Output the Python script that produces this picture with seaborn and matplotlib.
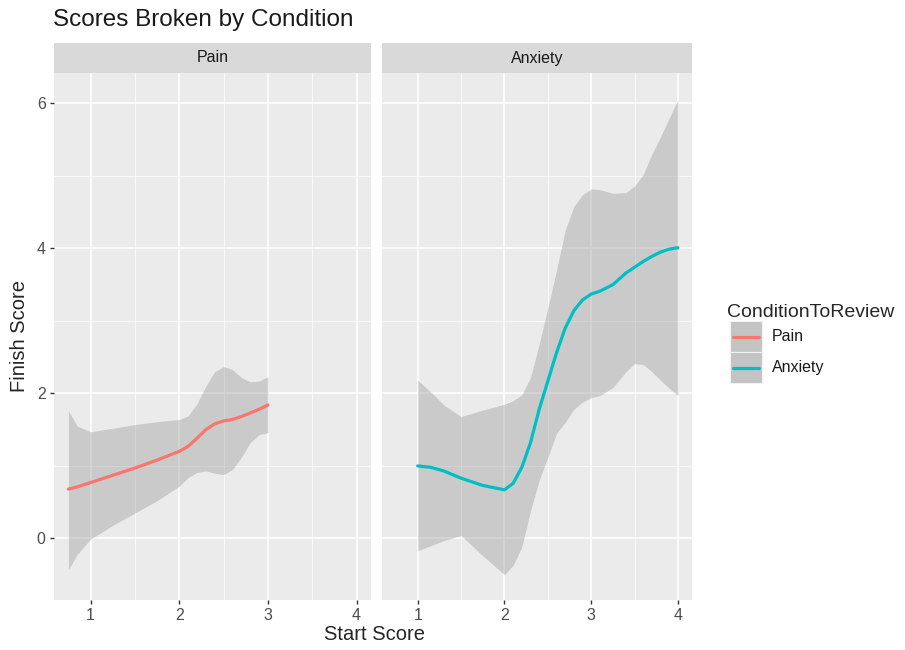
import numpy as np
import pandas as pd
import matplotlib
matplotlib.use("Agg")
import matplotlib.pyplot as plt
import seaborn as sns
from matplotlib.patches import Rectangle
from matplotlib.lines import Line2D
from matplotlib.ticker import MultipleLocator

# values
pain_x = [0.75, 0.85, 1.0, 1.25, 1.5, 1.75, 2.0, 2.1, 2.2, 2.3, 2.4, 2.5, 2.6, 2.7, 2.8, 2.9, 3.0]
pain_fit = [0.68, 0.71, 0.77, 0.87, 0.97, 1.08, 1.20, 1.27, 1.38, 1.50, 1.58, 1.62, 1.64, 1.68, 1.73, 1.78, 1.84]
pain_hi = [1.76, 1.55, 1.47, 1.52, 1.57, 1.61, 1.64, 1.69, 1.86, 2.10, 2.30, 2.37, 2.33, 2.22, 2.16, 2.17, 2.23]
pain_lo = [-0.43, -0.22, -0.01, 0.18, 0.35, 0.52, 0.72, 0.84, 0.91, 0.93, 0.90, 0.88, 0.95, 1.12, 1.32, 1.43, 1.46]

anx_x = [1.0, 1.15, 1.3, 1.5, 1.75, 2.0, 2.1, 2.2, 2.3, 2.4, 2.5, 2.6, 2.7, 2.8, 2.9, 3.0,
         3.1, 3.25, 3.4, 3.5, 3.6, 3.7, 3.8, 3.9, 4.0]
anx_fit = [1.00, 0.98, 0.93, 0.83, 0.73, 0.67, 0.76, 0.98, 1.32, 1.78, 2.17, 2.56, 2.90, 3.14, 3.29, 3.37,
           3.41, 3.50, 3.66, 3.74, 3.82, 3.89, 3.95, 3.99, 4.01]
anx_hi = [2.18, 2.02, 1.84, 1.68, 1.77, 1.85, 1.90, 1.98, 2.22, 2.68, 3.18, 3.70, 4.25, 4.58, 4.74, 4.82,
          4.81, 4.76, 4.77, 4.86, 5.02, 5.30, 5.54, 5.80, 6.05]
anx_lo = [-0.17, -0.10, -0.03, 0.04, -0.24, -0.50, -0.37, -0.12, 0.38, 0.80, 1.12, 1.45, 1.60, 1.78, 1.88, 1.94,
          1.97, 2.08, 2.30, 2.41, 2.40, 2.30, 2.18, 2.07, 1.97]

conditions = ["Pain", "Anxiety"]
colors = {"Pain": "#F8766D", "Anxiety": "#00BFC4"}

df = pd.concat([
    pd.DataFrame({"ConditionToReview": "Pain", "start": pain_x, "finish": pain_fit,
                  "lo": pain_lo, "hi": pain_hi}),
    pd.DataFrame({"ConditionToReview": "Anxiety", "start": anx_x, "finish": anx_fit,
                  "lo": anx_lo, "hi": anx_hi}),
])

sns.set_theme(style="darkgrid", rc={
    "axes.facecolor": "#EBEBEB",
    "grid.color": "white",
    "axes.edgecolor": "none",
    "xtick.bottom": True,
    "ytick.left": True,
    "xtick.color": "#333333",
    "ytick.color": "#333333",
})
plt.rcParams["font.family"] = ["Liberation Sans", "DejaVu Sans"]

fig = plt.figure(figsize=(9.05, 6.5), dpi=100)
W, H = 905, 650
bottom, top = 600, 73
panels = [(54, 371), (382, 692)]
axes = []
for (l, r) in panels:
    ax = fig.add_axes([l / W, 1 - bottom / H, (r - l) / W, (bottom - top) / H])
    axes.append(ax)

for ax, cond in zip(axes, conditions):
    sub = df[df["ConditionToReview"] == cond]
    ax.fill_between(sub["start"], sub["lo"], sub["hi"], color="#999999", alpha=0.4, lw=0, zorder=2)
    sns.lineplot(data=sub, x="start", y="finish", color=colors[cond], lw=2.3, ax=ax, zorder=3)
    ax.set_xlim(0.5875, 4.1625)
    ax.set_ylim(-0.85, 6.42)
    ax.set_xticks([1, 2, 3, 4])
    ax.set_yticks([0, 2, 4, 6])
    ax.xaxis.set_minor_locator(MultipleLocator(0.5))
    ax.yaxis.set_minor_locator(MultipleLocator(1))
    ax.grid(which="major", color="white", lw=1.1)
    ax.grid(which="minor", color="white", lw=0.5)
    ax.tick_params(which="major", length=3, width=1, pad=3, labelsize=11.5, labelcolor="#4D4D4D")
    ax.tick_params(which="minor", length=0)
    ax.set_xlabel("")
    ax.set_ylabel("")
    # facet strip
    strip_h = 30 / (bottom - top)
    ax.add_patch(Rectangle((0, 1), 1, strip_h, transform=ax.transAxes, facecolor="#D9D9D9",
                           edgecolor="none", clip_on=False))
    ax.text(0.5, 1 + strip_h / 2, cond, transform=ax.transAxes, ha="center", va="center",
            fontsize=11.5, color="#1A1A1A")

axes[1].tick_params(axis="y", which="both", left=False, labelleft=False)

fig.text(53 / W, 1 - 20 / H, "Scores Broken by Condition", ha="left", va="center",
         fontsize=17.5, color="#1A1A1A")
fig.text(374 / W, 1 - 634 / H, "Start Score", ha="center", va="center", fontsize=14.5)
fig.text(20 / W, 1 - 336 / H, "Finish Score", ha="center", va="center", rotation=90, fontsize=14.5)

# legend drawn by hand, ggplot style keys
fig.text(727 / W, 1 - 313 / H, "ConditionToReview", ha="left", va="center", fontsize=14)
key_top = 321
key_h = 31
for i, cond in enumerate(conditions):
    y0 = key_top + i * key_h
    fig.add_artist(Rectangle((730 / W, 1 - (y0 + key_h) / H), 32 / W, key_h / H,
                             facecolor="#C4C4C4", edgecolor="#F2F2F2", lw=0.8,
                             transform=fig.transFigure))
    yc = 1 - (y0 + key_h / 2) / H
    fig.add_artist(Line2D([733 / W, 759 / W], [yc, yc], color=colors[cond], lw=2.3,
                          transform=fig.transFigure))
    fig.text(772 / W, yc, cond, ha="left", va="center", fontsize=11.5, color="#1A1A1A")

fig.savefig("out.png", dpi=100)
